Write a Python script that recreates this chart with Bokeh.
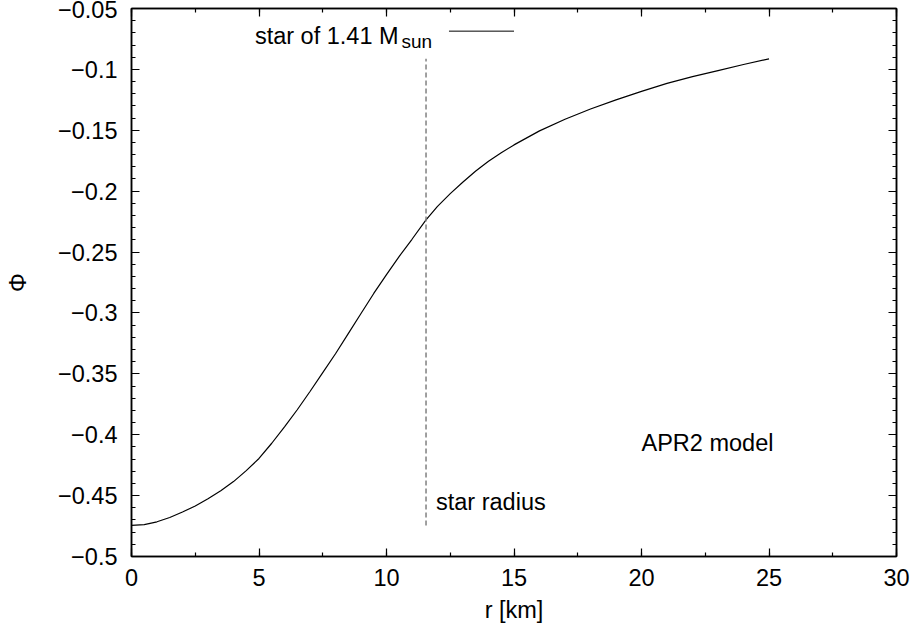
from bokeh.plotting import figure
from bokeh.models import (LinearAxis, SingleIntervalTicker, CustomJSTickFormatter,
                          Range1d, Label, Arrow)
from bokeh.embed import file_html
from bokeh.resources import INLINE

# ---- data ----
r_km = [0, 0.5, 1, 1.5, 2, 2.5, 3, 3.5, 4, 4.5, 5, 5.5, 6, 6.5, 7, 7.5,
        8, 8.5, 9, 9.5, 10, 10.5, 11, 11.55, 12, 12.5, 13, 13.5, 14, 14.5,
        15, 16, 17, 18, 19, 20, 21, 22, 23, 24, 25]
phi = [-0.4745, -0.4738, -0.4715, -0.4680, -0.4635, -0.4585, -0.4525,
       -0.4460, -0.4385, -0.4295, -0.4195, -0.4070, -0.3935, -0.3795,
       -0.3645, -0.3490, -0.3335, -0.3170, -0.3005, -0.2840, -0.2685,
       -0.2535, -0.2395, -0.2235, -0.2125, -0.2020, -0.1925, -0.1835,
       -0.1755, -0.1685, -0.1620, -0.1505, -0.1410, -0.1325, -0.1250,
       -0.1180, -0.1115, -0.1060, -0.1010, -0.0960, -0.0913]
star_radius_km = 11.55
legend_label = "star of 1.41 M"
legend_sub = "sun"
x_label = "r [km]"
y_label = "Φ"
model_text = "APR2 model"
radius_text = "star radius"

FONT = "Liberation Sans"
FS = "23.5px"

p = figure(width=916, height=635, output_backend="svg", toolbar_location=None,
           x_range=Range1d(0, 30), y_range=Range1d(-0.5, -0.05),
           min_border_left=131, min_border_right=20, min_border_top=8,
           min_border_bottom=79, x_axis_location=None, y_axis_location=None)
p.background_fill_color = "white"
p.border_fill_color = "white"
p.outline_line_color = "black"
p.outline_line_width = 1.5
p.xgrid.visible = False
p.ygrid.visible = False

xt = SingleIntervalTicker(interval=5, num_minor_ticks=2)
yt = SingleIntervalTicker(interval=0.05, num_minor_ticks=5)
yfmt = CustomJSTickFormatter(code="""
const v = Math.round(tick*100)/100;
return (v < 0 ? '\\u2212' : '') + Math.abs(v).toString();
""")

def style(ax, labels=True):
    ax.axis_line_color = "black"
    ax.axis_line_width = 1.5
    ax.major_tick_in = 8
    ax.major_tick_out = 0
    ax.minor_tick_in = 4
    ax.minor_tick_out = 0
    ax.major_tick_line_width = 1.2
    ax.minor_tick_line_width = 1.2
    ax.major_tick_line_color = "black"
    ax.minor_tick_line_color = "black"
    if labels:
        ax.major_label_text_font = FONT
        ax.major_label_text_font_size = FS
        ax.major_label_text_color = "black"
        ax.axis_label_text_font = FONT
        ax.axis_label_text_font_size = FS
        ax.axis_label_text_font_style = "normal"
        ax.axis_label_text_color = "black"
    else:
        ax.major_label_text_font_size = "1px"
        ax.major_label_text_color = None
        ax.major_label_standoff = 0

xb = LinearAxis(ticker=xt, axis_label=x_label)
style(xb)
xb.major_label_standoff = 12
xb.axis_label_standoff = 8
p.add_layout(xb, "below")

yl = LinearAxis(ticker=yt, formatter=yfmt, axis_label=y_label)
style(yl)
yl.major_label_standoff = 14
yl.axis_label_standoff = 24
p.add_layout(yl, "left")

xa = LinearAxis(ticker=xt)
style(xa, labels=False)
p.add_layout(xa, "above")
yr = LinearAxis(ticker=yt)
style(yr, labels=False)
p.add_layout(yr, "right")

# curve
p.line(r_km, phi, line_color="black", line_width=1.2)
# star radius marker
p.line([star_radius_km, star_radius_km], [min(phi), max(phi)],
       line_color="#808080", line_width=1.5, line_dash="5 3")

# annotations
p.add_layout(Label(x=star_radius_km, y=-0.455, x_offset=10, text=radius_text,
                   text_font=FONT, text_font_size=FS, text_color="black",
                   text_baseline="alphabetic"))
p.add_layout(Label(x=20.0, y=-0.4066, text=model_text,
                   text_font=FONT, text_font_size=FS, text_color="black",
                   text_baseline="alphabetic"))
# key
p.add_layout(Label(x=4.84, y=-0.0724, text=legend_label,
                   text_font=FONT, text_font_size=FS, text_color="black",
                   text_baseline="alphabetic"))
p.add_layout(Label(x=10.59, y=-0.0773, text=legend_sub,
                   text_font=FONT, text_font_size="19px", text_color="black",
                   text_baseline="alphabetic"))
p.add_layout(Arrow(end=None, start=None, x_start=12.45, y_start=-0.0686,
                   x_end=15.0, y_end=-0.0686, line_color="black", line_width=1))

open("out.html", "w").write(file_html(p, INLINE))
